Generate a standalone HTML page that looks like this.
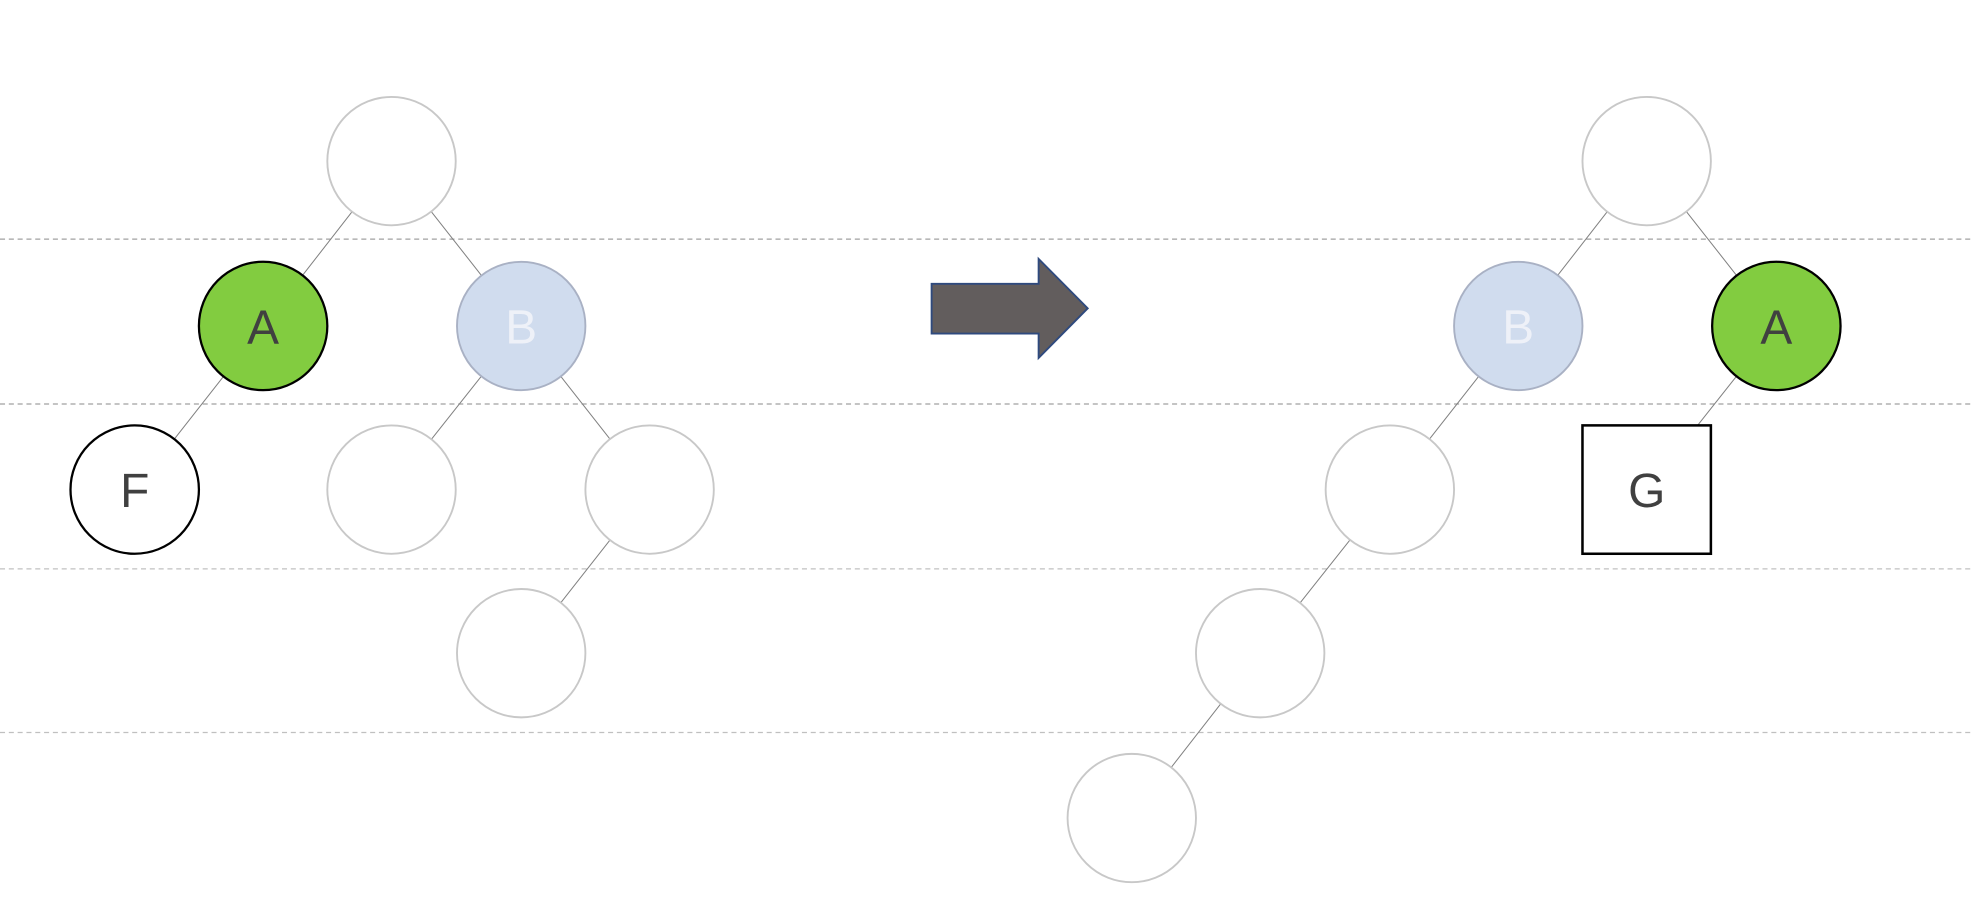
<!DOCTYPE html>
<html><head><meta charset="utf-8"><style>
html,body{margin:0;padding:0;background:#fff;}
svg{display:block;}
text{font-family:"Liberation Sans","DejaVu Sans",sans-serif;}
</style></head><body>
<svg width="1974" height="920" viewBox="0 0 1568 731" preserveAspectRatio="none" xmlns="http://www.w3.org/2000/svg">
<g stroke="#a0a0a0" stroke-width="1" stroke-dasharray="4,3">
<line x1="0" y1="190" x2="1568" y2="190"/>
<line x1="0" y1="321" x2="1568" y2="321"/>
<line x1="0" y1="452" x2="1568" y2="452" stroke="#c0c0c0"/>
<line x1="0" y1="582" x2="1568" y2="582" stroke="#c0c0c0"/>
</g>
<g id="edges" stroke="#808080" stroke-width="0.8"></g>
<g id="nodes"></g>
<path d="M740,225.5 H825 V205.7 L864,245 L825,284.4 V265 H740 Z" fill="#625d5d" stroke="#2f4a7e" stroke-width="1.5"/>
<script>
const ns="http://www.w3.org/2000/svg";
const R=51;
// nodes: name, x, y, kind, label
const nodes=[
 ["left-root",311,128,"empty",""],
 ["left-node-a",209,259,"green","A"],
 ["left-node-b",414,259,"blue","B"],
 ["left-node-f",107,389,"black","F"],
 ["left-b-left",311,389,"empty",""],
 ["left-b-right",516,389,"empty",""],
 ["left-b-right-child",414,519,"empty",""],
 ["right-root",1308,128,"empty",""],
 ["right-node-b",1206,259,"blue","B"],
 ["right-node-a",1411,259,"green","A"],
 ["right-b-left",1104,389,"empty",""],
 ["right-node-g",1308,389,"square","G"],
 ["right-chain-1",1001,519,"empty",""],
 ["right-chain-2",899,650,"empty",""]
];
const edges=[[0,1],[0,2],[1,3],[2,4],[2,5],[5,6],[7,8],[7,9],[8,10],[9,11],[10,12],[12,13]];
const eg=document.getElementById('edges'), ng=document.getElementById('nodes');
edges.forEach(([a,b])=>{
 const A=nodes[a],B=nodes[b];
 const dx=B[1]-A[1],dy=B[2]-A[2],d=Math.hypot(dx,dy);
 const ux=dx/d,uy=dy/d;
 const l=document.createElementNS(ns,'line');
 let endR=R;
 if(B[3]==="square"){endR=(B[2]-A[2]-R)/uy>0?((B[2]-51)-A[2])/uy:R;}
 l.setAttribute('x1',A[1]+ux*R);l.setAttribute('y1',A[2]+uy*R);
 l.setAttribute('x2',B[3]==="square"?A[1]+ux*endR:B[1]-ux*R);
 l.setAttribute('y2',B[3]==="square"?A[2]+uy*endR:B[2]-uy*R);
 
 
 eg.appendChild(l);
});
nodes.forEach(n=>{
 const [name,x,y,kind,label]=n;
 let s;
 if(kind==="square"){
  s=document.createElementNS(ns,'rect');
  s.setAttribute('x',x-51);s.setAttribute('y',y-51);s.setAttribute('width',102);s.setAttribute('height',102);
  s.setAttribute('fill','#fff');s.setAttribute('stroke','#000');s.setAttribute('stroke-width','2');
 } else {
  s=document.createElementNS(ns,'circle');
  s.setAttribute('cx',x);s.setAttribute('cy',y);s.setAttribute('r',R);
  const st={empty:['#fff','#c8c8c8',1.5],green:['#82cc40','#000',1.8],blue:['#d0dcee','#a9b1c4',1.5],black:['#fff','#000',1.8]}[kind];
  s.setAttribute('fill',st[0]);s.setAttribute('stroke',st[1]);s.setAttribute('stroke-width',st[2]);
 }
 
 
 ng.appendChild(s);
 if(label){
  const t=document.createElementNS(ns,'text');
  t.setAttribute('x',x);t.setAttribute('y',y+14);t.setAttribute('text-anchor','middle');
  t.setAttribute('font-size','38');
  t.setAttribute('fill',kind==="blue"?'#eef1f8':'#404040');
  t.textContent=label;
  
  
  ng.appendChild(t);
 }
});
</script>
</svg>
</body></html>
